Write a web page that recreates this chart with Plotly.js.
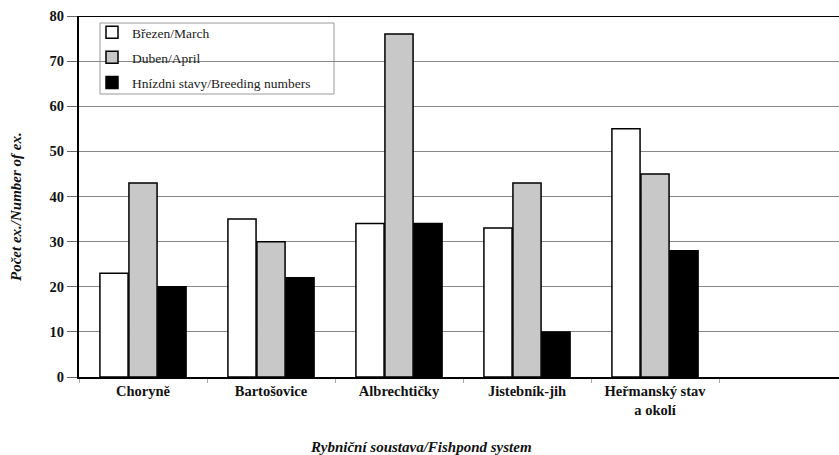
<!DOCTYPE html>
<html>
<head>
<meta charset="utf-8">
<script src="https://cdn.plot.ly/plotly-3.0.1.min.js"></script>
<style>html,body{margin:0;padding:0;background:#fff;}#chart{width:839px;height:455px;}</style>
</head>
<body>
<div id="chart"></div>
<script>
const categories = ["Choryně", "Bartošovice", "Albrechtičky", "Jistebník-jih", "Heřmanský stav<br>a okolí", " "];
const seriesNames = ["Březen/March", "Duben/April", "Hnízdni stavy/Breeding numbers"];
const march = [23, 35, 34, 33, 55, null];
const april = [43, 30, 76, 43, 45, null];
const breeding = [20, 22, 34, 10, 28, null];
const yTicks = [0, 10, 20, 30, 40, 50, 60, 70, 80];

const colors = ["#ffffff", "#c8c8c8", "#000000"];
const serif = "Liberation Serif";

const traces = [march, april, breeding].map((vals, i) => ({
  type: "bar",
  x: categories,
  y: vals,
  name: seriesNames[i],
  legendgroup: "g" + i,
  marker: {color: colors[i], line: {color: "#000", width: 1.5}},
  hoverinfo: "skip"
}));

// pixel helpers for the plot area (l=79, t=16, w=760, h=361)
const px = x => (x - 79) / 760;
const py = y => 1 - (y - 16) / 361;

const layout = {
  width: 839, height: 455,
  margin: {l: 79, r: 0, t: 16, b: 78},
  paper_bgcolor: "#fff", plot_bgcolor: "#fff",
  font: {family: serif},
  barmode: "group",
  bargap: 0.32,
  bargroupgap: 0.03,
  showlegend: true,
  legend: {
    x: px(92), y: py(17), xanchor: "left", yanchor: "top",
    bgcolor: "rgba(0,0,0,0)", borderwidth: 0,
    font: {family: serif, size: 13.5, color: "#222"},
    tracegroupgap: 4.5,
    traceorder: "grouped"
  },
  xaxis: {
    type: "category",
    range: [-0.5, 5.4375],
    showline: true, linecolor: "#000", linewidth: 2,
    ticks: "outside", tickson: "boundaries", ticklen: 4, tickcolor: "#aaa",
    showgrid: false, zeroline: false,
    tickfont: {family: serif, size: 14.5, color: "#111", weight: "bold"},
    fixedrange: true
  },
  yaxis: {
    range: [0, 80],
    tickvals: yTicks,
    showline: true, linecolor: "#000", linewidth: 2,
    ticks: "outside", ticklen: 10, tickcolor: "#666",
    showgrid: true, gridcolor: "#888", gridwidth: 1,
    zeroline: false,
    tickfont: {family: serif, size: 14.5, color: "#111", weight: "bold"},
    fixedrange: true
  },
  shapes: [
    {type: "rect", xref: "paper", yref: "paper", x0: px(100), x1: px(334), y0: py(94), y1: py(23),
     fillcolor: "#fff", line: {color: "#999", width: 1}, layer: "between"},
    {type: "line", xref: "paper", yref: "y", x0: 0, x1: 1, y0: 80, y1: 80, line: {color: "#000", width: 2}}
  ],
  annotations: [
    {text: "Rybniční soustava/Fishpond system", xref: "paper", yref: "paper",
     x: px(421), y: py(447), xanchor: "center", yanchor: "middle", showarrow: false,
     font: {family: serif, size: 15, color: "#111", weight: "bold", style: "italic"}},
    {text: "Počet ex./Number of ex.", xref: "paper", yref: "paper",
     x: px(16), y: py(207), xanchor: "center", yanchor: "middle", textangle: -90, showarrow: false,
     font: {family: serif, size: 15, color: "#111", weight: "bold", style: "italic"}}
  ]
};

Plotly.newPlot("chart", traces, layout, {displayModeBar: false, staticPlot: true});
</script>
</body>
</html>
